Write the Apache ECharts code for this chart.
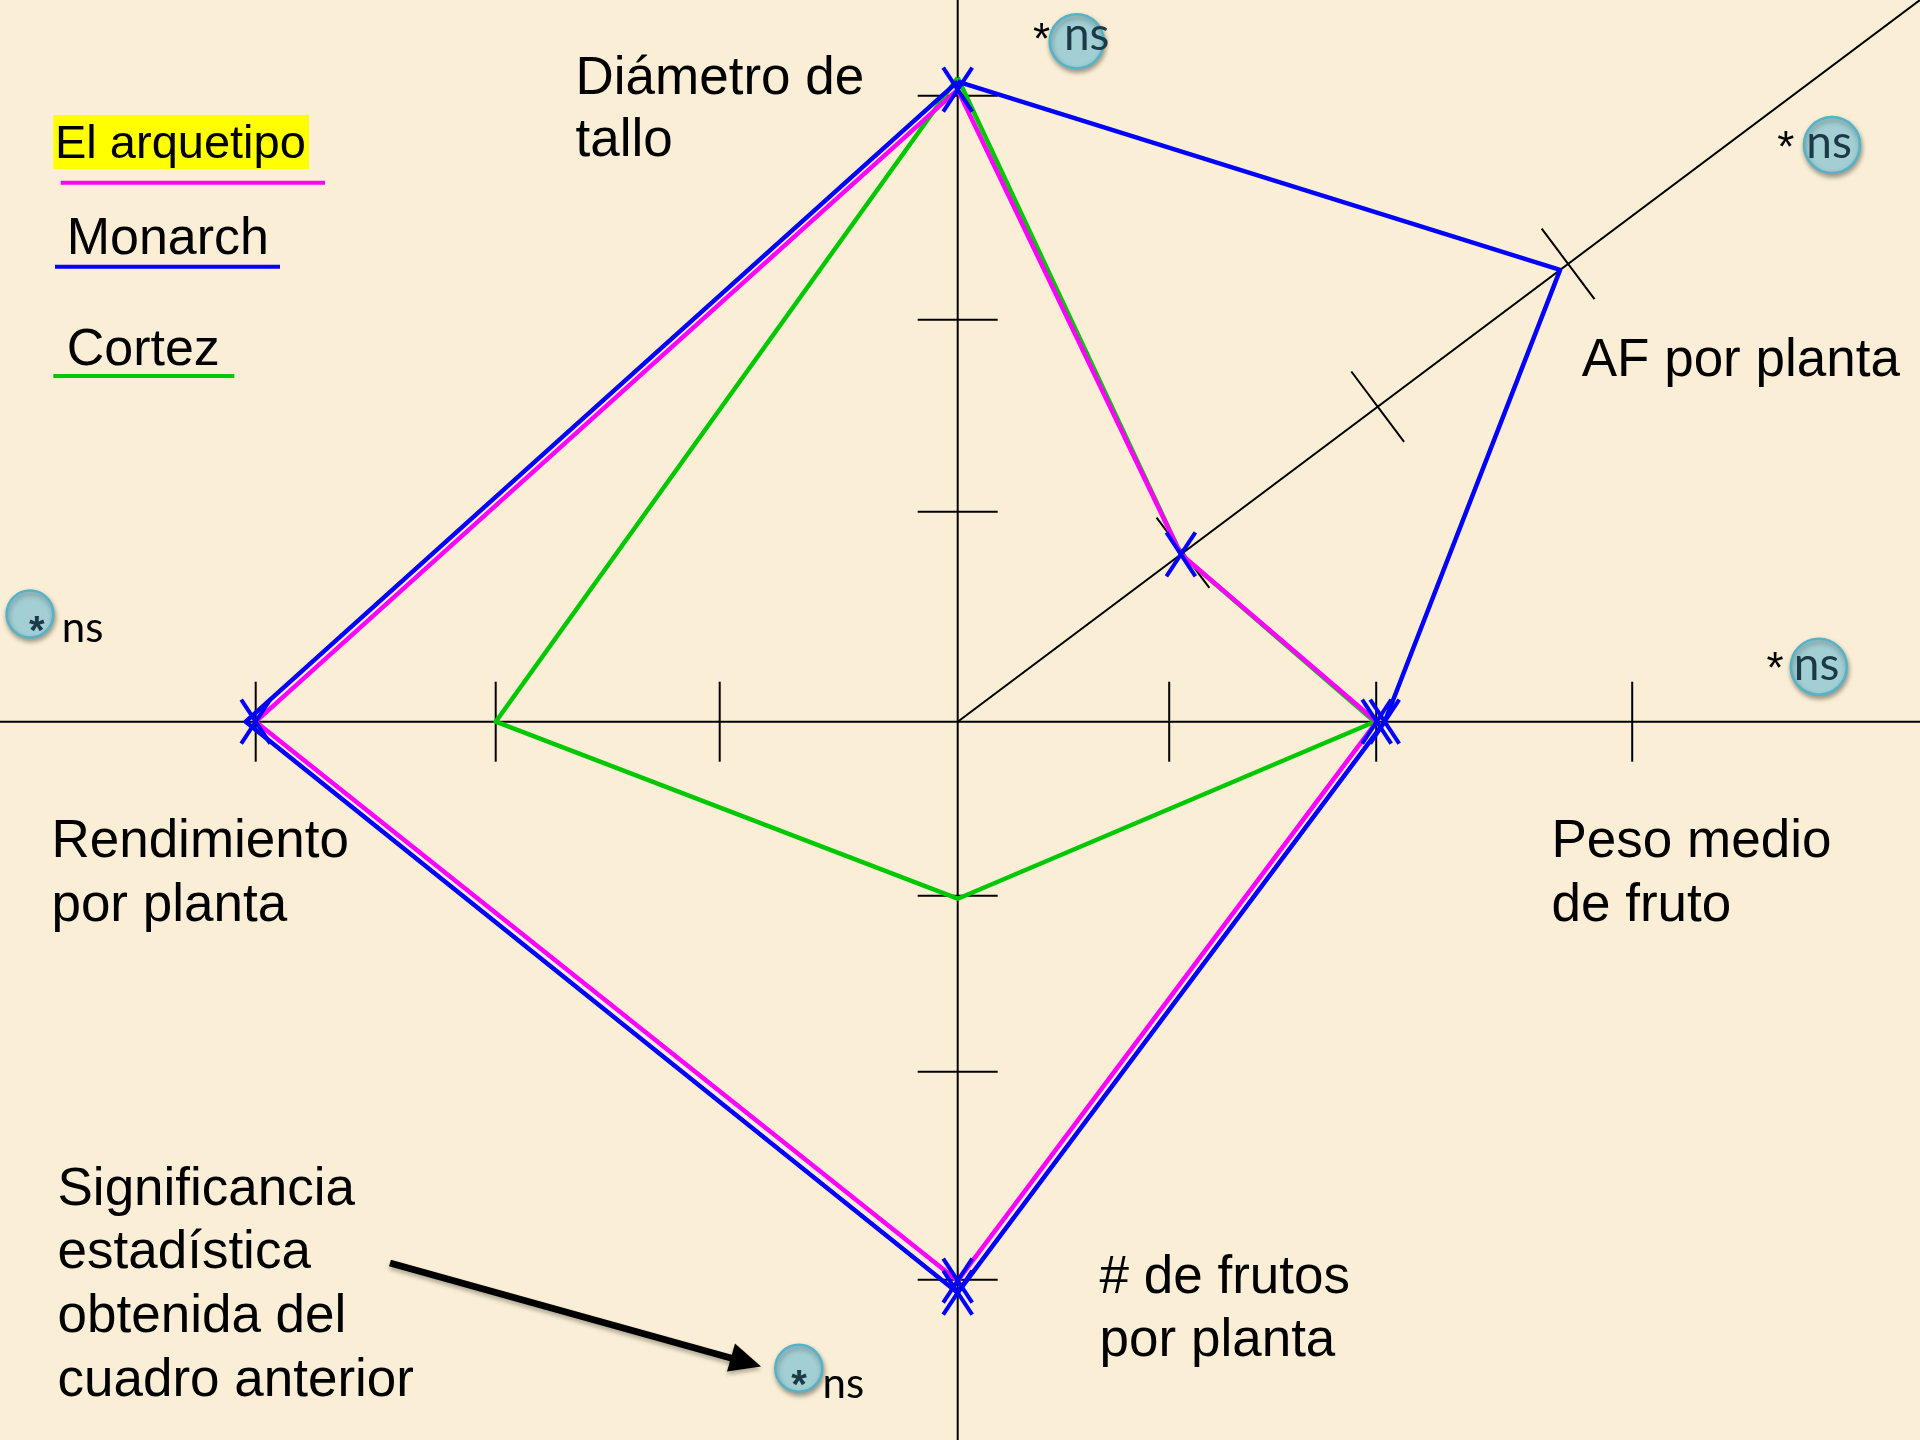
<!DOCTYPE html>
<html><head><meta charset="utf-8">
<style>html,body{margin:0;padding:0;background:#faefd6;}#chart{width:1920px;height:1440px;}</style>
<script src="https://cdn.jsdelivr.net/npm/echarts@6/dist/echarts.min.js"></script>
</head><body><div id="chart"></div>
<script>
// ---- data (distance from the centre along each axis, chart units) ----
const axisNames = ['Diámetro de tallo', 'AF por planta', 'Peso medio de fruto', '# de frutos por planta', 'Rendimiento por planta'];
const axisLabelLines = [['Diámetro de', 'tallo'], ['AF por planta'], ['Peso medio', 'de fruto'], ['# de frutos', 'por planta'], ['Rendimiento', 'por planta']];
const axisAngles = [90, 36.87, 0, -90, 180];
const seriesNames = ['El arquetipo', 'Monarch', 'Cortez'];
const arquetipo = [632, 279, 419, 559, 702];
const monarch = [640, 753, 427, 571, 712];
const cortez = [644, 279, 417, 177, 462];
const monarchMarked = [2, 3];
const ticksUp = [210, 402, 626];
const ticksDiag = [281.6, 525, 763];
const ticksRight = [211.5, 418.5, 674.5];
const ticksDown = [174, 350, 558];
const ticksLeft = [238, 462, 702];
const significance = ['*', 'ns'];

const X_MIN = -957.7, X_MAX = 962.3, Y_MIN = -718.3, Y_MAX = 721.7;
const COLORS = { 'El arquetipo': '#ff00ff', 'Monarch': '#0000ff', 'Cortez': '#00c800' };
const TXT_DY = 3.5;

function pt(i, v) { const a = axisAngles[i] * Math.PI / 180; return [v * Math.cos(a), v * Math.sin(a)]; }
function poly(vals) { const p = vals.map((v, i) => pt(i, v)); p.push(p[0]); return p; }

const tickData = [];
[ticksUp, ticksDiag, ticksRight, ticksDown, ticksLeft].forEach((arr, ai) => arr.forEach(d => tickData.push([ai, d])));

const markerData = arquetipo.map((v, i) => pt(i, v)).concat(monarchMarked.map(i => pt(i, monarch[i])));

const FONT = '"Liberation Sans", Arial, sans-serif';
const NSFONT = 'Lato, "Open Sans", sans-serif';
function txt(t, x, baseline, fs, extra) {
  return Object.assign({ type: 'text', x: x, y: baseline - 0.3465 * fs + TXT_DY, z: 50,
    style: Object.assign({ text: t, font: fs + 'px ' + FONT, fill: '#000', textAlign: 'left', textVerticalAlign: 'middle' }, extra || {}) });
}
function nsText(t, cx, inkCy, fs, color, align) {
  return { type: 'text', x: cx, y: inkCy - 0.134 * fs + TXT_DY, z: 60,
    style: { text: t, font: fs + 'px ' + NSFONT, fill: color, textAlign: align || 'center', textVerticalAlign: 'middle' } };
}
function star(cx, cy, fs, color, weight) {
  return { type: 'text', x: cx, y: cy + 0.23 * fs + TXT_DY, z: 60,
    style: { text: significance[0], font: (weight || 'normal') + ' ' + fs + 'px ' + FONT, fill: color, textAlign: 'center', textVerticalAlign: 'middle' } };
}
function bubble(cx, cy, r) {
  return { type: 'circle', shape: { cx: cx, cy: cy, r: r }, z: 55,
    style: { fill: '#a2cfd4', stroke: '#55b3c9', lineWidth: 2.5, shadowBlur: 5, shadowOffsetX: 1, shadowOffsetY: 3, shadowColor: 'rgba(0,0,0,0.35)' } };
}

const labelPos = [[575.5, 94.5, 156.7], [1581.7, 376.7], [1551.5, 857, 921], [1099.6, 1293, 1356], [51.4, 857, 921]];
const graphics = [];
axisLabelLines.forEach((lines, i) => {
  lines.forEach((l, k) => graphics.push(txt(l, labelPos[i][0], labelPos[i][1 + k], 53)));
});
['Significancia', 'estadística', 'obtenida del', 'cuadro anterior'].forEach((l, k) => graphics.push(txt(l, 57.5, [1205, 1268.3, 1332.7, 1396][k], 53)));

// legend
graphics.push({ type: 'rect', shape: { x: 53.3, y: 115, width: 255.7, height: 54 }, z: 40, style: { fill: '#ffff00' } });
graphics.push(txt(seriesNames[0], 55, 158.3, 47));
graphics.push({ type: 'line', shape: { x1: 60.7, y1: 182.7, x2: 325, y2: 182.7 }, z: 40, style: { stroke: COLORS['El arquetipo'], lineWidth: 4 } });
graphics.push(txt(seriesNames[1], 66.7, 254, 52));
graphics.push({ type: 'line', shape: { x1: 55, y1: 266.7, x2: 280, y2: 266.7 }, z: 40, style: { stroke: COLORS['Monarch'], lineWidth: 4 } });
graphics.push(txt(seriesNames[2], 66.7, 365, 52));
graphics.push({ type: 'line', shape: { x1: 53.3, y1: 376, x2: 234.3, y2: 376 }, z: 40, style: { stroke: COLORS['Cortez'], lineWidth: 4 } });

// significance bubbles
graphics.push(star(1041.5, 28.3, 44, '#000'));
graphics.push(bubble(1076.7, 41.2, 27));
graphics.push(nsText(significance[1], 1086.7, 37.5, 46, '#1c3947'));

graphics.push(star(1785.7, 136, 44, '#000'));
graphics.push(bubble(1832, 145, 28));
graphics.push(nsText(significance[1], 1829, 145.8, 46, '#1c3947'));

graphics.push(star(1775, 657.5, 44, '#000'));
graphics.push(bubble(1818.8, 666.7, 28));
graphics.push(nsText(significance[1], 1816.5, 667.5, 46, '#1c3947'));

graphics.push(bubble(30, 614, 23.4));
graphics.push(star(36.7, 620, 40, '#1c3947', 'bold'));
graphics.push(nsText(significance[1], 61.7, 631, 42, '#000', 'left'));

graphics.push(bubble(798.8, 1368.3, 23.5));
graphics.push(star(799, 1374, 40, '#1c3947', 'bold'));
graphics.push(nsText(significance[1], 822.6, 1386.7, 42, '#000', 'left'));

// arrow
graphics.push({ type: 'line', shape: { x1: 390, y1: 1263, x2: 738, y2: 1360 }, z: 45,
  style: { stroke: '#000', lineWidth: 7, shadowBlur: 4, shadowOffsetY: 3, shadowColor: 'rgba(0,0,0,0.3)' } });
graphics.push({ type: 'polygon', shape: { points: [[761, 1366.5], [727, 1371.5], [735, 1343.5]] }, z: 45,
  style: { fill: '#000', shadowBlur: 4, shadowOffsetY: 3, shadowColor: 'rgba(0,0,0,0.3)' } });

function polySeries(name, vals) {
  return { name: name, type: 'line', data: poly(vals), symbol: 'none', z: 5, clip: false,
    lineStyle: { color: COLORS[name], width: 4.5, join: 'round' }, animation: false, silent: true };
}
function axisLine(data) {
  return { type: 'line', data: data, symbol: 'none', z: 2, clip: false, lineStyle: { color: '#000', width: 2 }, animation: false, silent: true };
}
const diagEndX = X_MAX, diagEndY = X_MAX * Math.tan(axisAngles[1] * Math.PI / 180);

const option = {
  backgroundColor: '#faefd6',
  animation: false,
  grid: { left: 0, right: 0, top: 0, bottom: 0 },
  xAxis: { type: 'value', min: X_MIN, max: X_MAX, show: false },
  yAxis: { type: 'value', min: Y_MIN, max: Y_MAX, show: false },
  graphic: graphics,
  series: [
    axisLine([[0, Y_MIN], [0, Y_MAX]]),
    axisLine([[X_MIN, 0], [X_MAX, 0]]),
    axisLine([[0, 0], [diagEndX, diagEndY]]),
    { type: 'custom', coordinateSystem: 'cartesian2d', data: tickData, z: 3, silent: true, animation: false,
      renderItem: function (params, api) {
        const ai = api.value(0), d = api.value(1);
        const a = axisAngles[ai] * Math.PI / 180;
        const c = api.coord([d * Math.cos(a), d * Math.sin(a)]);
        const h = ai === 1 ? 44 : 40;
        const px = Math.sin(a), py = Math.cos(a);
        return { type: 'line', shape: { x1: c[0] - h * px, y1: c[1] - h * py, x2: c[0] + h * px, y2: c[1] + h * py }, style: { stroke: '#000', lineWidth: 2 } };
      } },
    polySeries('Cortez', cortez),
    polySeries('El arquetipo', arquetipo),
    polySeries('Monarch', monarch),
    { type: 'custom', coordinateSystem: 'cartesian2d', data: markerData, z: 8, silent: true, animation: false,
      renderItem: function (params, api) {
        const c = api.coord([api.value(0), api.value(1)]);
        const w = 14.5, hh = 22;
        return { type: 'group', children: [
          { type: 'line', shape: { x1: c[0] - w, y1: c[1] - hh, x2: c[0] + w, y2: c[1] + hh }, style: { stroke: '#0000ff', lineWidth: 4 } },
          { type: 'line', shape: { x1: c[0] + w, y1: c[1] - hh, x2: c[0] - w, y2: c[1] + hh }, style: { stroke: '#0000ff', lineWidth: 4 } }
        ] };
      } }
  ]
};
const chart = echarts.init(document.getElementById('chart'), null, { width: 1920, height: 1440 });
chart.setOption(option);
</script>
</body></html>
